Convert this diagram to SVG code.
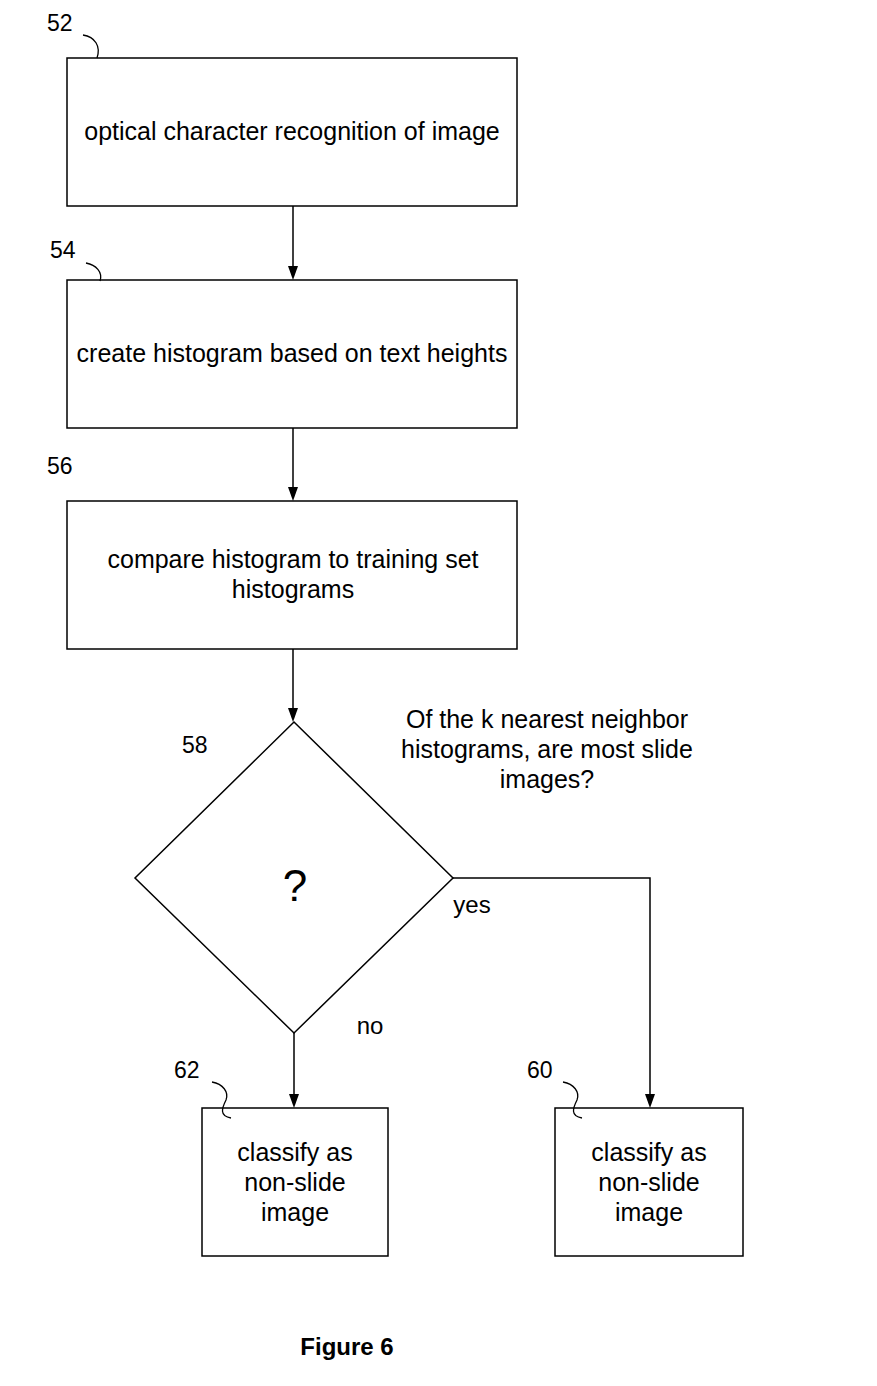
<svg xmlns="http://www.w3.org/2000/svg" width="877" height="1386" viewBox="0 0 877 1386">
<style>
.box{fill:#fff;stroke:#000;stroke-width:1.5}
.t{font-family:"Liberation Sans",Arial,sans-serif;font-size:25px;fill:#000;text-anchor:middle}
.lab{font-family:"Liberation Sans",Arial,sans-serif;font-size:23px;fill:#000}
.ln{fill:none;stroke:#000;stroke-width:1.5}
.ld{fill:none;stroke:#000;stroke-width:1.3}
</style>
<rect width="877" height="1386" fill="#fff"/>
<g id="connectors">
<line class="ln" x1="293" y1="206" x2="293" y2="268"/>
<path d="M288,266 L298,266 L293,280 Z" fill="#000"/>
<line class="ln" x1="293" y1="428" x2="293" y2="489"/>
<path d="M288,487 L298,487 L293,501 Z" fill="#000"/>
<line class="ln" x1="293" y1="649" x2="293" y2="710"/>
<path d="M288,708 L298,708 L293,722 Z" fill="#000"/>
<line class="ln" x1="294" y1="1033" x2="294" y2="1096"/>
<path d="M289,1094 L299,1094 L294,1108 Z" fill="#000"/>
<polyline class="ln" points="453,878 650,878 650,1096"/>
<path d="M645,1094 L655,1094 L650,1108 Z" fill="#000"/>
<text class="t" x="472" y="913" style="font-size:24px">yes</text>
<text class="t" x="370" y="1034" style="font-size:24px">no</text>
</g>
<g id="n52">
<rect class="box" x="67" y="58" width="450" height="148"/>
<text class="t" x="292" y="140">optical character recognition of image</text>
<text class="lab" x="47" y="31">52</text>
<path class="ld" d="M83,35 C95,37 101,46 97,58"/>
</g>
<g id="n54">
<rect class="box" x="67" y="280" width="450" height="148"/>
<text class="t" x="292" y="362">create histogram based on text heights</text>
<text class="lab" x="50" y="258">54</text>
<path class="ld" d="M86,263 C96,265 103,272 100,281"/>
</g>
<g id="n56">
<rect class="box" x="67" y="501" width="450" height="148"/>
<text class="t" x="293" y="568">compare histogram to training set</text>
<text class="t" x="293" y="598">histograms</text>
<text class="lab" x="47" y="474">56</text>
</g>
<g id="n58">
<polygon class="box" points="294,722 453,878 294,1033 135,878"/>
<text class="t" x="295" y="901" style="font-size:44px">?</text>
<text class="lab" x="182" y="753">58</text>
<text class="t" x="547" y="728">Of the k nearest neighbor</text>
<text class="t" x="547" y="758">histograms, are most slide</text>
<text class="t" x="547" y="788">images?</text>
</g>
<g id="n62">
<rect class="box" x="202" y="1108" width="186" height="148"/>
<text class="t" x="295" y="1161">classify as</text>
<text class="t" x="295" y="1191">non-slide</text>
<text class="t" x="295" y="1221">image</text>
<text class="lab" x="174" y="1078">62</text>
<path class="ld" d="M212,1082 C223,1084 229,1092 226,1100 C222,1108 219,1116 231,1118"/>
</g>
<g id="n60">
<rect class="box" x="555" y="1108" width="188" height="148"/>
<text class="t" x="649" y="1161">classify as</text>
<text class="t" x="649" y="1191">non-slide</text>
<text class="t" x="649" y="1221">image</text>
<text class="lab" x="527" y="1078">60</text>
<path class="ld" d="M563,1082 C574,1084 580,1092 577,1100 C573,1108 570,1116 582,1118"/>
</g>
<text class="t" x="347" y="1355" style="font-weight:bold;font-size:24px">Figure 6</text>
</svg>
